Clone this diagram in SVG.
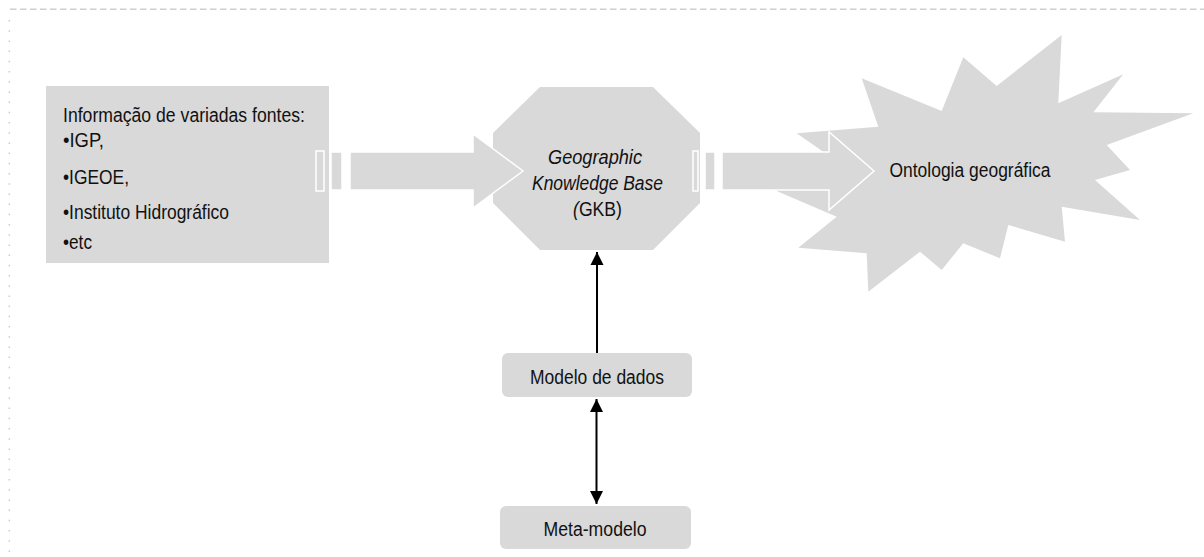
<svg xmlns="http://www.w3.org/2000/svg" width="1204" height="557" viewBox="0 0 1204 557">
<style>
.shape{fill:#d9d9d9}
.arr{fill:#d9d9d9;stroke:#ffffff;stroke-width:1.5}
.t{font-family:"Liberation Sans",Arial,sans-serif;font-size:20px;fill:#111}
.i{font-style:italic}
.c{text-anchor:middle}
.conn{stroke:#000;stroke-width:2;fill:none}
</style>
<defs>
<marker id="ah" markerUnits="userSpaceOnUse" markerWidth="14" markerHeight="14" viewBox="0 0 14 14" refX="13" refY="7" orient="auto-start-reverse">
<path d="M0,0.5 L13,7 L0,13.5 z" fill="#000"/>
</marker>
</defs>
<rect width="1204" height="557" fill="#fff"/>
<g id="frame">
<line x1="10" y1="9.3" x2="1204" y2="9.3" stroke="#cfcfcf" stroke-width="1.5" stroke-dasharray="6.5 3.5"/>
<line x1="9.3" y1="20" x2="9.3" y2="557" stroke="#cccccc" stroke-width="1.5" stroke-dasharray="1.5 8.7"/>
</g>
<g id="sources">
<rect class="shape" x="46" y="86" width="283" height="177"/>
<text class="t" x="63" y="121.5" textLength="242" lengthAdjust="spacingAndGlyphs">Informação de variadas fontes:</text>
<text class="t" x="63" y="147" textLength="41" lengthAdjust="spacingAndGlyphs">•IGP,</text>
<text class="t" x="63" y="183.5" textLength="66" lengthAdjust="spacingAndGlyphs">•IGEOE,</text>
<text class="t" x="63" y="218.5" textLength="166" lengthAdjust="spacingAndGlyphs">•Instituto Hidrográfico</text>
<text class="t" x="63" y="249" textLength="29" lengthAdjust="spacingAndGlyphs">•etc</text>
</g>
<g id="gkb">
<polygon class="shape" points="540,87 653,87 700,133 700,203 653,250 540,250 493,203 493,133"/>
</g>
<g id="ontologia">
<polygon class="shape" points="861.7,78.3 941.7,111 963.3,57.3 996.7,86 1061.7,35 1058.3,103.3 1123.3,74.3 1093.3,112.3 1193.3,113.3 1106.7,145 1130,170 1095,180 1140,220 1061.7,206.7 1065,241.7 1008.3,225 1000,258.3 963.3,243.3 941.7,270 920,251.7 868.3,291.7 866.7,253.3 798.3,247.7 836.7,216.7 772,189 835,160 796.7,133.3 878.3,126.7"/>
</g>
<g id="connectors">
<path class="arr" d="M316,151 H324 V191 H316 Z M331,152 H342 V190 H331 Z M350,152 H473 V134 L523,171 L473,208 V190 H350 Z"/>
<path class="arr" d="M693,151 H698 V191 H693 Z M705,152 H715 V190 H705 Z M722,152 H829 V132 L874,171 L829,210 V190 H722 Z"/>
<line class="conn" x1="597" y1="353" x2="597" y2="252" marker-end="url(#ah)"/>
<line class="conn" x1="596.5" y1="399" x2="596.5" y2="504" marker-start="url(#ah)" marker-end="url(#ah)"/>
</g>
<g id="gkb-label">
<text class="t i c" x="595" y="163.5" textLength="94" lengthAdjust="spacingAndGlyphs">Geographic</text>
<text class="t i c" x="597.5" y="190" textLength="131" lengthAdjust="spacingAndGlyphs">Knowledge Base</text>
<text class="t c" x="597.5" y="215.5" textLength="49" lengthAdjust="spacingAndGlyphs"><tspan class="i">(</tspan>GKB)</text>
</g>
<g id="ontologia-label">
<text class="t" x="889.5" y="177" textLength="161" lengthAdjust="spacingAndGlyphs">Ontologia geográfica</text>
</g>
<g id="modelo">
<rect class="shape" x="502" y="353" width="190" height="44" rx="6"/>
<text class="t c" x="597" y="384" textLength="134" lengthAdjust="spacingAndGlyphs">Modelo de dados</text>
</g>
<g id="meta">
<rect class="shape" x="500" y="506" width="191" height="43" rx="6"/>
<text class="t c" x="595" y="536" textLength="103" lengthAdjust="spacingAndGlyphs">Meta-modelo</text>
</g>
</svg>
